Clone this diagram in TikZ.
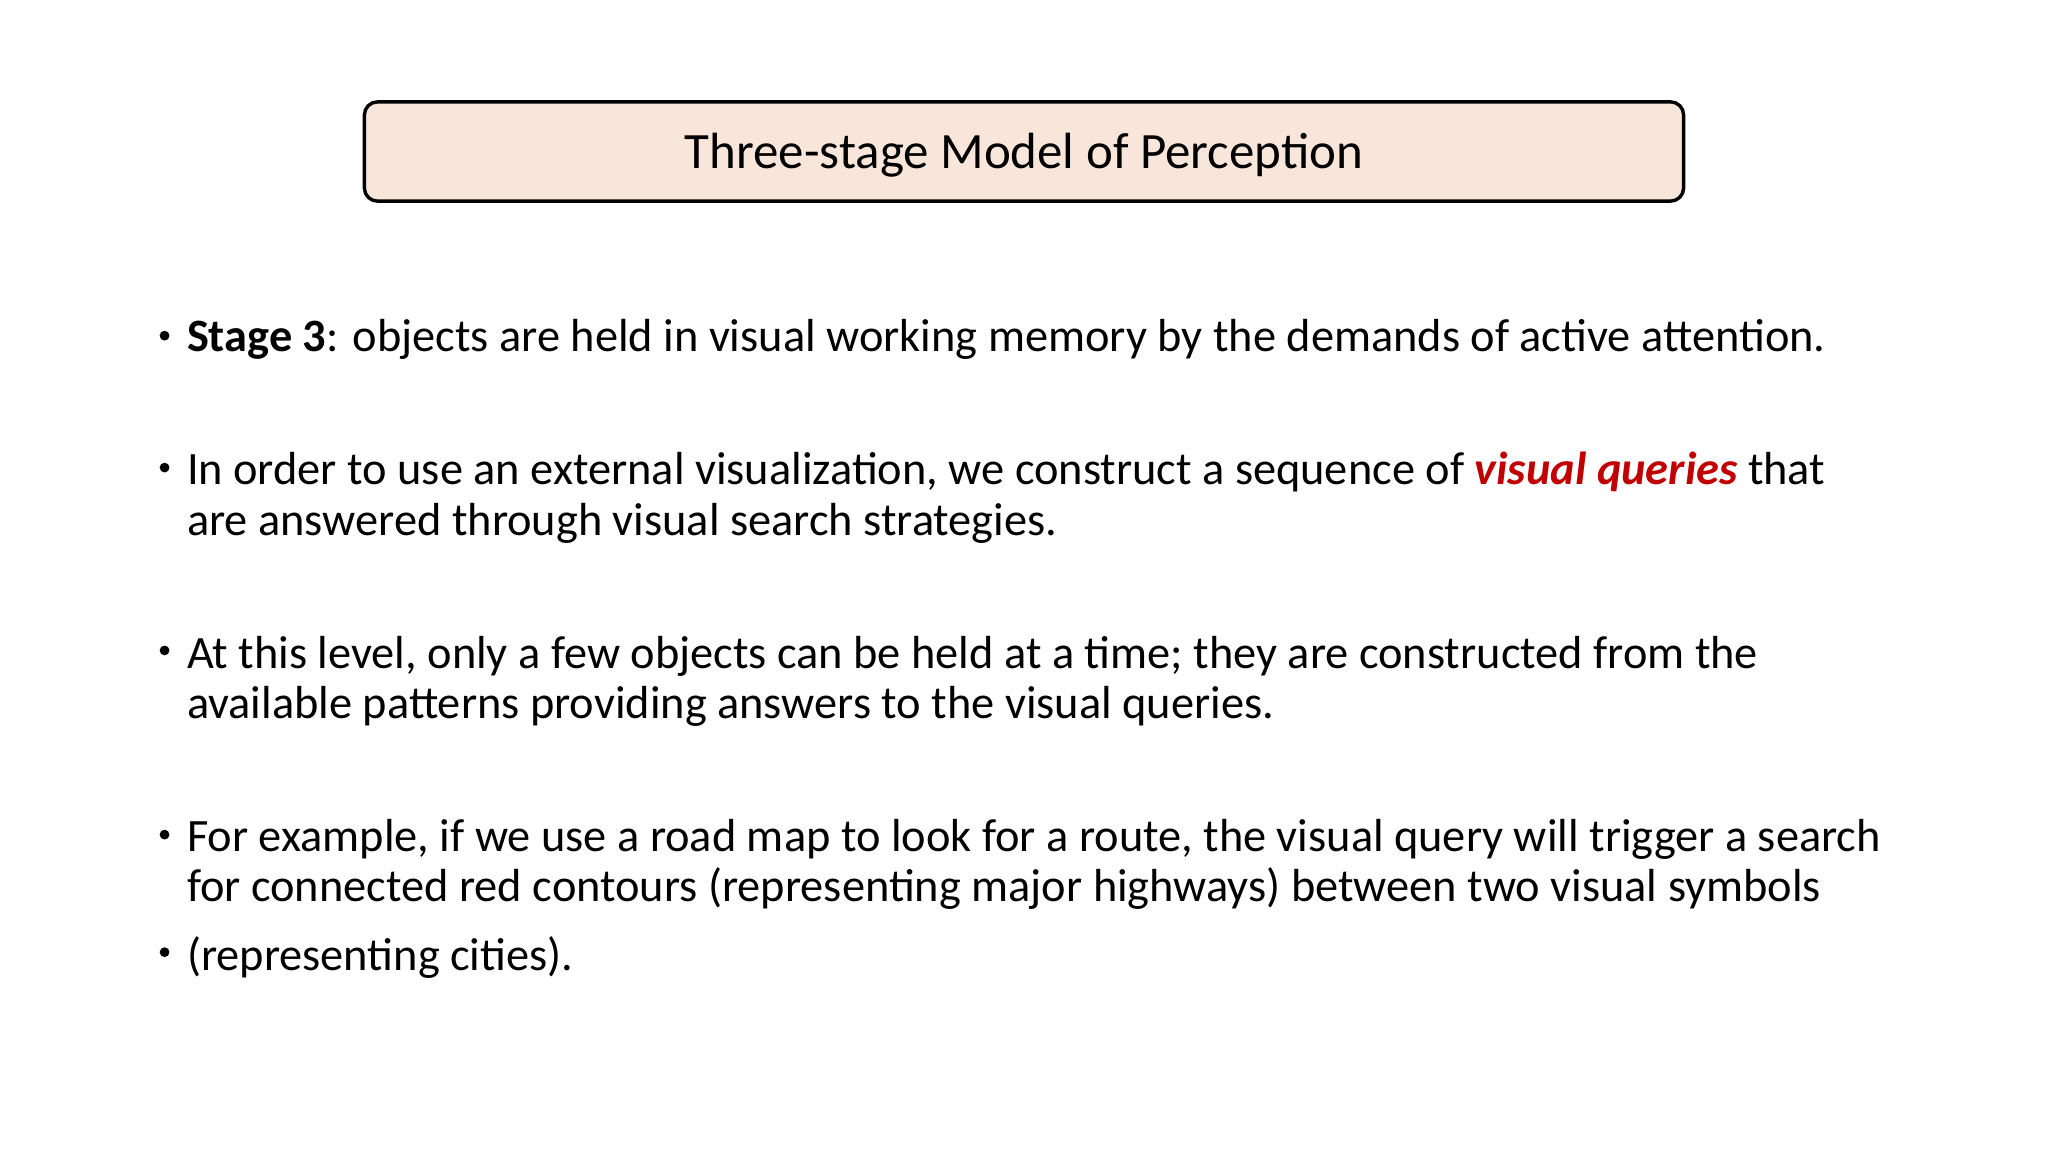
\documentclass[tikz,border=0pt]{standalone}
\usepackage{fontspec}
\setmainfont{Carlito}
\definecolor{peach}{HTML}{F9E6DB}
\definecolor{qred}{HTML}{C00000}
\begin{document}
\begin{tikzpicture}[x=1pt,y=-1pt,
  bul/.style={anchor=west,align=left,inner sep=0pt,font=\fontsize{35.5}{38.5}\selectfont},
  dot/.style={circle,fill=black,inner sep=0pt,minimum size=7.5pt}]
\useasboundingbox (0,0) rectangle (1568,882);
\node[draw=black,line width=2.6pt,rounded corners=10pt,fill=peach,minimum width=1010pt,minimum height=76pt] (title) at (784,116) {};
\node[font=\fontsize{39}{44}\selectfont,inner sep=0pt] (tt) at (784,119) {Three-stage Model of Perception};
\node[bul] (b1) at (143,260) {\textbf{Stage 3}: objects are held in visual working memory by the demands of active attention.};
\node[bul] (b2) at (143,381) {In order to use an external visualization, we construct a sequence of \textcolor{qred}{\textbf{\textit{visual queries}}} that\\are answered through visual search strategies.};
\node[bul] (b3) at (143,521.5) {At this level, only a few objects can be held at a time; they are constructed from the\\available patterns providing answers to the visual queries.};
\node[bul] (b4) at (143,662) {For example, if we use a road map to look for a route, the visual query will trigger a search\\for connected red contours (representing major highways) between two visual symbols};
\node[bul] (b5) at (143,733) {(representing cities).};
\foreach \y/\n in {257/d1,358/d2,498/d3,639/d4,729/d5} \node[dot] (\n) at (126,\y) {};
\end{tikzpicture}
\end{document}
